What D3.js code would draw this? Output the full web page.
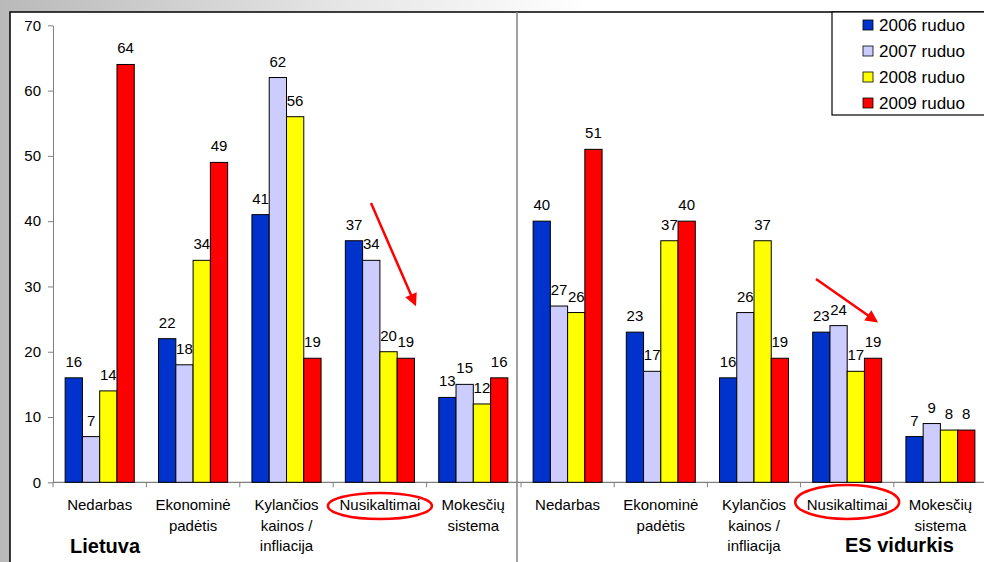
<!DOCTYPE html>
<html>
<head>
<meta charset="utf-8">
<script src="https://cdn.jsdelivr.net/npm/d3@7/dist/d3.min.js"></script>
<style>
  body { margin: 0; background: #fff; }
  svg { display: block; font-family: Arial, "Liberation Sans", sans-serif; }
</style>
</head>
<body>
<div id="chart"></div>
<script>
// categories, split into the lines they are printed on
var categoryLines = [
	["Nedarbas"],
	["Ekonominė", "padėtis"],
	["Kylančios", "kainos /", "infliacija"],
	["Nusikaltimai"],
	["Mokesčių", "sistema"]
];
var seriesNames = ["2006 ruduo", "2007 ruduo", "2008 ruduo", "2009 ruduo"];
var seriesColors = ["#0033cc", "#ccccff", "#ffff00", "#ff0000"];
var yTicks = [0, 10, 20, 30, 40, 50, 60, 70];

// Lietuva
var lt2006 = [16, 22, 41, 37, 13];
var lt2007 = [7, 18, 62, 34, 15];
var lt2008 = [14, 34, 56, 20, 12];
var lt2009 = [64, 49, 19, 19, 16];

// ES vidurkis
var es2006 = [40, 23, 16, 23, 7];
var es2007 = [27, 17, 26, 24, 9];
var es2008 = [26, 37, 37, 17, 8];
var es2009 = [51, 40, 19, 19, 8];

var panels = [
	{ title: "Lietuva", values: [lt2006, lt2007, lt2008, lt2009], range: [53, 520], titleX: 70, titleY: 553 },
	{ title: "ES vidurkis", values: [es2006, es2007, es2008, es2009], range: [521, 987], titleX: 845, titleY: 552 }
];

var width = 984, height = 562;
var svg = d3.select("#chart").append("svg").attr("width", width).attr("height", height);

// faded backdrop behind the chart box
var defs = svg.append("defs");
var grad = defs.append("linearGradient").attr("id", "bg").attr("x1", "0").attr("x2", "1").attr("y1", "0").attr("y2", "0");
grad.append("stop").attr("offset", "0").attr("stop-color", "#b9b9b9");
grad.append("stop").attr("offset", "0.35").attr("stop-color", "#e6e6e6");
grad.append("stop").attr("offset", "0.6").attr("stop-color", "#ffffff");
svg.append("rect").attr("width", width).attr("height", height).attr("fill", "url(#bg)");

// chart box
svg.append("rect")
	.attr("x", 10).attr("y", 12)
	.attr("width", 990).attr("height", 570)
	.attr("fill", "#fff").attr("stroke", "#000").attr("stroke-width", 1.5);

// divider between the two charts
svg.append("line")
	.attr("x1", 517).attr("x2", 517).attr("y1", 12).attr("y2", height)
	.attr("stroke", "#808080").attr("stroke-width", 1.5);

var yScale = d3.scaleLinear().domain([0, 70]).range([482.3, 25.3]);

// y axis
var yAxis = svg.append("g")
	.attr("transform", "translate(53,0)")
	.call(d3.axisLeft(yScale).tickValues(yTicks).tickSize(5).tickPadding(7).tickSizeOuter(0));
yAxis.select(".domain").attr("stroke", "#808080");
yAxis.selectAll(".tick line").attr("stroke", "#808080");
yAxis.selectAll(".tick text").attr("font-size", 15).attr("fill", "#000").attr("font-family", "Arial, 'Liberation Sans', sans-serif");

// x axis line across both charts
svg.append("line")
	.attr("x1", 53).attr("x2", 987)
	.attr("y1", yScale(0)).attr("y2", yScale(0))
	.attr("stroke", "#808080").attr("stroke-width", 1.2);

var idx = d3.range(categoryLines.length);

panels.forEach(function (p) {
	var x = d3.scaleBand().domain(idx).range(p.range).paddingInner(0.26).paddingOuter(0.13);
	var slot = d3.scaleBand().domain(idx).range(p.range).padding(0);
	var xs = d3.scaleBand().domain(d3.range(seriesNames.length)).range([0, x.bandwidth()]);
	var g = svg.append("g");

	// ticks between categories
	g.selectAll(".xtick").data(idx).enter().append("line")
		.attr("x1", function (d) { return slot(d); })
		.attr("x2", function (d) { return slot(d); })
		.attr("y1", yScale(0)).attr("y2", yScale(0) + 5)
		.attr("stroke", "#808080");

	var series = g.selectAll(".series").data(p.values).enter().append("g")
		.attr("fill", function (d, i) { return seriesColors[i]; });

	series.selectAll("rect").data(function (d, i) {
		return d.map(function (v, c) { return { s: i, c: c, v: v }; });
	}).enter().append("rect")
		.attr("x", function (d) { return x(d.c) + xs(d.s); })
		.attr("y", function (d) { return yScale(d.v); })
		.attr("width", xs.bandwidth())
		.attr("height", function (d) { return yScale(0) - yScale(d.v); })
		.attr("stroke", "#000").attr("stroke-width", 1);

	series.selectAll("text").data(function (d, i) {
		return d.map(function (v, c) { return { s: i, c: c, v: v }; });
	}).enter().append("text")
		.attr("x", function (d) { return x(d.c) + xs(d.s) + xs.bandwidth() / 2; })
		.attr("y", function (d) { return yScale(d.v) - 11; })
		.attr("text-anchor", "middle")
		.attr("font-size", 15)
		.attr("fill", "#000")
		.text(function (d) { return d.v; });

	// category labels
	var labels = g.selectAll(".cat").data(categoryLines).enter().append("text")
		.attr("text-anchor", "middle")
		.attr("font-size", 15)
		.attr("x", function (d, i) { return slot(i) + slot.bandwidth() / 2; })
		.attr("y", 510);
	labels.selectAll("tspan").data(function (d) { return d; }).enter().append("tspan")
		.attr("x", function () { return d3.select(this.parentNode).attr("x"); })
		.attr("dy", function (d, i) { return i ? 20.5 : 0; })
		.text(function (d) { return d; });

	g.append("text")
		.attr("x", p.titleX).attr("y", p.titleY)
		.attr("font-size", 20).attr("font-weight", "bold")
		.text(p.title);

	// red ring round "Nusikaltimai"
	var ci = 3;
	g.append("ellipse")
		.attr("cx", slot(ci) + slot.bandwidth() / 2)
		.attr("cy", p.title === "Lietuva" ? 506 : 502)
		.attr("rx", 52).attr("ry", p.title === "Lietuva" ? 13 : 17)
		.attr("fill", "none").attr("stroke", "#ff0000").attr("stroke-width", 2.5);
});

// arrows pointing down over the crime group
defs.append("marker")
	.attr("id", "head").attr("viewBox", "0 0 10 10")
	.attr("refX", 8).attr("refY", 5)
	.attr("markerWidth", 5.5).attr("markerHeight", 5)
	.attr("orient", "auto")
	.append("path").attr("d", "M0,0L10,5L0,10Z").attr("fill", "#ff0000");

var arrows = [[371, 203, 415, 304], [816, 279, 876, 321]];
svg.selectAll(".arrow").data(arrows).enter().append("line")
	.attr("x1", function (d) { return d[0]; })
	.attr("y1", function (d) { return d[1]; })
	.attr("x2", function (d) { return d[2]; })
	.attr("y2", function (d) { return d[3]; })
	.attr("stroke", "#ff0000").attr("stroke-width", 2.5)
	.attr("marker-end", "url(#head)");

// legend
var legend = svg.append("g");
legend.append("rect")
	.attr("x", 832).attr("y", 12).attr("width", 170).attr("height", 103)
	.attr("fill", "#fff").attr("stroke", "#000").attr("stroke-width", 1.2);
var items = legend.selectAll(".item").data(seriesNames).enter().append("g")
	.attr("transform", function (d, i) { return "translate(0," + (25 + i * 26) + ")"; });
items.append("rect")
	.attr("x", 863).attr("y", -5).attr("width", 10).attr("height", 10)
	.attr("fill", function (d, i) { return seriesColors[i]; })
	.attr("stroke", "#000").attr("stroke-width", 0.8);
items.append("text")
	.attr("x", 879).attr("y", 6)
	.attr("font-size", 17)
	.text(function (d) { return d; });
</script>
</body>
</html>
